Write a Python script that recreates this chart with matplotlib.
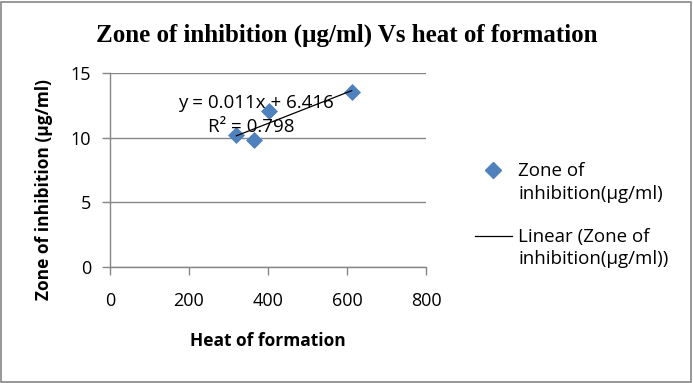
import matplotlib
matplotlib.use('Agg')
import matplotlib.pyplot as plt
from matplotlib.patches import Rectangle
from matplotlib.lines import Line2D
import numpy as np

# data
heat = [320, 365, 403, 612]
zone = [10.2, 9.8, 12.1, 13.5]
eq_text = 'y = 0.011x + 6.416'
r2_text = 'R² = 0.798'
x_ticks = [0, 200, 400, 600, 800]
y_ticks = [0, 5, 10, 15]
legend_labels = ['Zone of\ninhibition(µg/ml)', 'Linear (Zone of\ninhibition(µg/ml))']

blue = '#4F81BD'
grey = '#868686'
sans = ['Open Sans', 'DejaVu Sans']
W, H = 693, 383


def fx(px):
    return px / W


def fy(py):
    return 1 - py / H


fig = plt.figure(figsize=(6.93, 3.83), dpi=100)
fig.patch.set_facecolor('white')
# outer chart border
fig.add_artist(Rectangle((0.002, 0.003), 0.995, 0.993, transform=fig.transFigure,
                         fill=False, edgecolor=grey, linewidth=1.2))

ax = fig.add_axes([0.1587, 0.3029, 0.456, 0.5065])
ax.scatter(heat, zone, marker='D', s=75, color=blue, zorder=3, linewidths=0)

# linear trendline
m, b = np.polyfit(heat, zone, 1)
xs = np.array([min(heat), max(heat)])
ax.plot(xs, m * xs + b, color='black', linewidth=0.9, zorder=4)

ax.text(172, 12.68, eq_text, fontsize=13.5, ha='left', va='center', family=sans, zorder=5)
ax.text(248, 10.82, r2_text, fontsize=13.5, ha='left', va='center', family=sans, zorder=5)

ax.set_xlim(0, 800)
ax.set_ylim(0, 15)
ax.set_xticks(x_ticks)
ax.set_yticks(y_ticks)
ax.tick_params(labelsize=13, colors=grey, labelcolor='black', length=5.5, width=1)
ax.tick_params(axis='x', pad=12.5)
ax.tick_params(axis='y', pad=8)
for lbl in ax.get_xticklabels() + ax.get_yticklabels():
    lbl.set_family(sans)
ax.grid(axis='y', color=grey, linewidth=1)
ax.set_axisbelow(True)
for side in ['top', 'right']:
    ax.spines[side].set_visible(False)
for side in ['left', 'bottom']:
    ax.spines[side].set_color(grey)
    ax.spines[side].set_linewidth(1)

ax.set_xlabel('Heat of formation', fontsize=12.5, fontweight='bold', family=sans, va='top')
ax.xaxis.set_label_coords(0.5, -0.335)
ax.set_ylabel('Zone of inhibition (µg/ml)', fontsize=12.5, fontweight='bold', family=sans)
ax.yaxis.set_label_coords(-0.18, 0.40)

fig.text(0.5, 0.909, 'Zone of inhibition (µg/ml) Vs heat of formation', ha='center', va='center',
         fontsize=18, fontweight='bold', family=['Liberation Serif', 'DejaVu Serif'])

# legend, drawn by hand so each key sits on the first line of its label
fig.add_artist(Line2D([fx(493)], [fy(170)], marker='D', color=blue, linestyle='none',
                      markersize=8.5, transform=fig.transFigure))
fig.add_artist(Line2D([fx(475), fx(512)], [fy(236), fy(236)], color='black', linewidth=0.9,
                      transform=fig.transFigure))
fig.text(fx(518), fy(182.5), legend_labels[0], fontsize=13.5, family=sans, ha='left',
         va='center', linespacing=1.35)
fig.text(fx(518), fy(248), legend_labels[1], fontsize=13.5, family=sans, ha='left',
         va='center', linespacing=1.35)

fig.savefig('out.png', dpi=100)
